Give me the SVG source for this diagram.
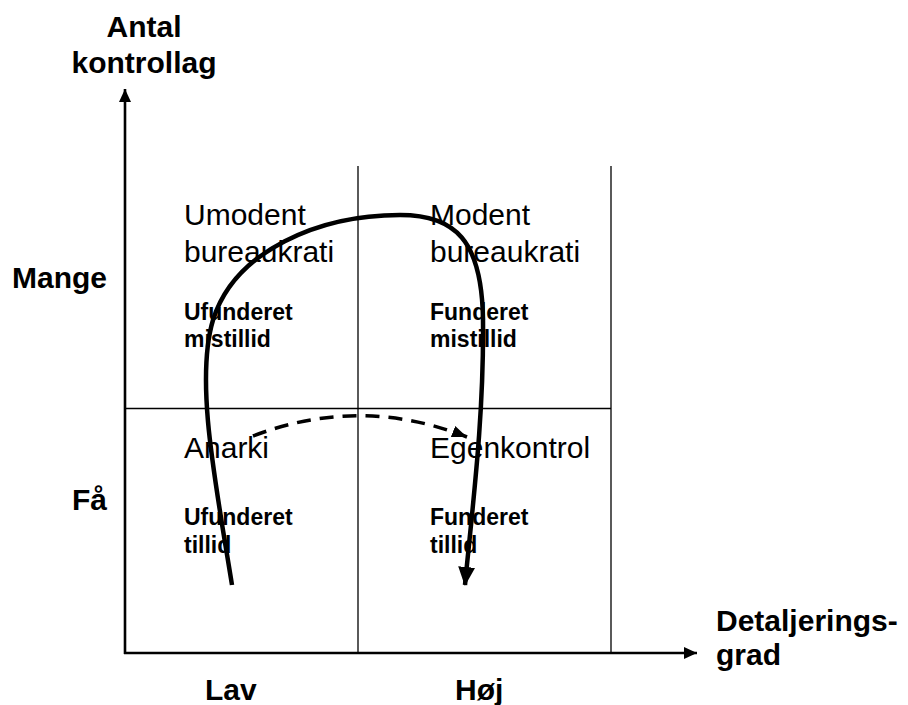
<svg xmlns="http://www.w3.org/2000/svg" width="908" height="705" viewBox="0 0 908 705">
<style>
.ax{font-family:"Liberation Sans",Arial,sans-serif;font-weight:bold;font-size:30px;fill:#000}
.q{font-family:"Liberation Sans",Arial,sans-serif;font-size:30px;fill:#000}
.qb{font-family:"Liberation Sans",Arial,sans-serif;font-weight:bold;font-size:23px;fill:#000}
.grid{stroke:#000;stroke-width:1.3;fill:none}
.axis{stroke:#000;stroke-width:2.6;fill:none}
</style>
<defs>
<marker id="axhead" markerUnits="userSpaceOnUse" markerWidth="14" markerHeight="14" viewBox="0 0 14 14" refX="13" refY="7" orient="auto">
<path d="M0,1 L13,7 L0,13 Z" fill="#000"/>
</marker>
<marker id="bighead" markerUnits="userSpaceOnUse" markerWidth="20" markerHeight="20" viewBox="0 0 20 20" refX="18" refY="10" orient="auto">
<path d="M0,1.5 L19,10 L0,18.5 Z" fill="#000"/>
</marker>
<marker id="dashhead" markerUnits="userSpaceOnUse" markerWidth="16" markerHeight="16" viewBox="0 0 16 16" refX="15" refY="8" orient="auto">
<path d="M0,2 L15,8 L0,14 Z" fill="#000"/>
</marker>
</defs>
<rect width="908" height="705" fill="#fff"/>
<g id="grid">
<line class="grid" x1="358" y1="166" x2="358" y2="653"/>
<line class="grid" x1="611" y1="166" x2="611" y2="653"/>
<line class="grid" x1="125" y1="408.5" x2="611" y2="408.5"/>
</g>
<g id="axes">
<line class="axis" x1="125" y1="654" x2="125" y2="89" marker-end="url(#axhead)"/>
<line class="axis" x1="124" y1="653" x2="697" y2="653" marker-end="url(#axhead)"/>
</g>
<g id="y-axis-label">
<text class="ax" x="144" y="37" text-anchor="middle">Antal</text>
<text class="ax" x="144" y="73" text-anchor="middle">kontrollag</text>
</g>
<g id="x-axis-label">
<text class="ax" x="716" y="631">Detaljerings-</text>
<text class="ax" x="716" y="665">grad</text>
</g>
<g id="label-mange"><text class="ax" x="107" y="288" text-anchor="end">Mange</text></g>
<g id="label-faa"><text class="ax" x="107" y="510" text-anchor="end">Få</text></g>
<g id="label-lav"><text class="ax" x="205" y="700">Lav</text></g>
<g id="label-hoej"><text class="ax" x="455" y="700">Høj</text></g>
<g id="q-umodent">
<text class="q" x="184" y="225">Umodent</text>
<text class="q" x="184" y="262">bureaukrati</text>
<text class="qb" x="184" y="320">Ufunderet</text>
<text class="qb" x="184" y="347">mistillid</text>
</g>
<g id="q-modent">
<text class="q" x="430" y="225">Modent</text>
<text class="q" x="430" y="262">bureaukrati</text>
<text class="qb" x="430" y="320">Funderet</text>
<text class="qb" x="430" y="347">mistillid</text>
</g>
<g id="q-anarki">
<text class="q" x="184" y="458">Anarki</text>
<text class="qb" x="184" y="525">Ufunderet</text>
<text class="qb" x="184" y="553">tillid</text>
</g>
<g id="q-egenkontrol">
<text class="q" x="430" y="458">Egenkontrol</text>
<text class="qb" x="430" y="525">Funderet</text>
<text class="qb" x="430" y="553">tillid</text>
</g>
<g id="connectors">
<path d="M232,585 C215,480 195,380 213,320 C235,250 320,215 400,215 C455,215 482,240 483,320 C484,420 472,510 465,585" fill="none" stroke="#000" stroke-width="4.5" marker-end="url(#bighead)"/>
<path d="M253,436 Q360,395 467,437" fill="none" stroke="#000" stroke-width="3.5" stroke-dasharray="14,9" marker-end="url(#dashhead)"/>
</g>
</svg>
